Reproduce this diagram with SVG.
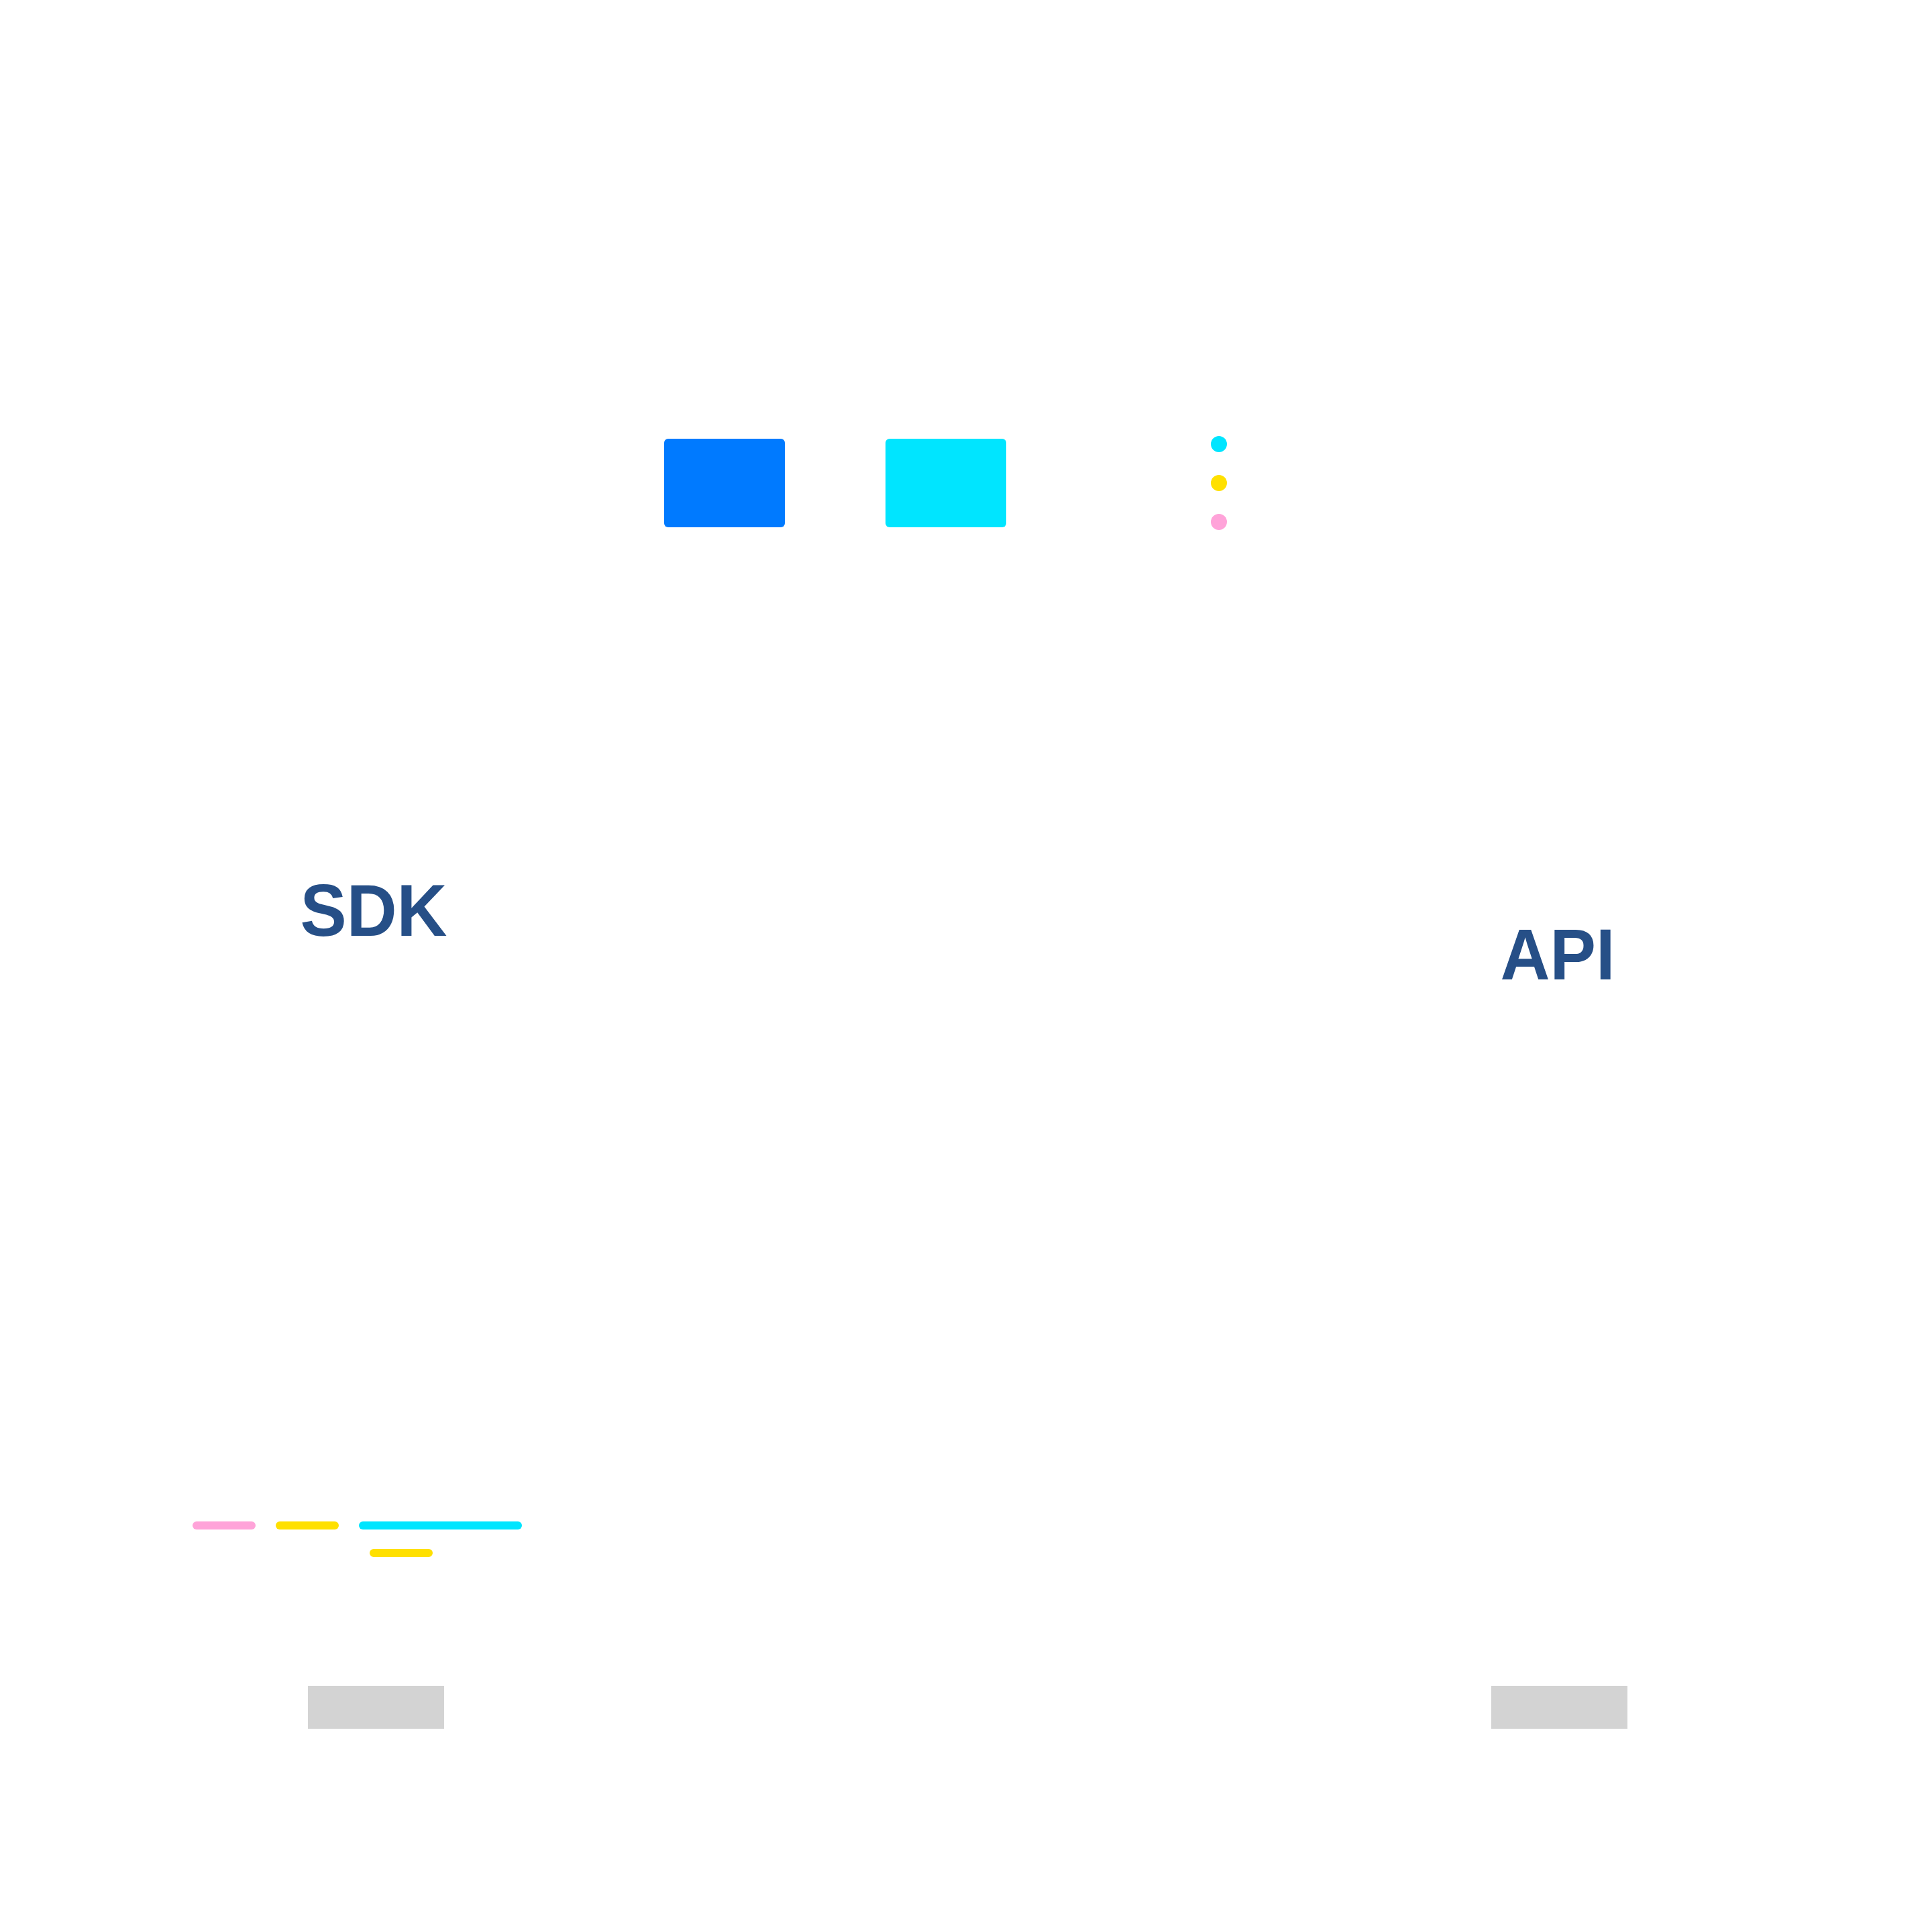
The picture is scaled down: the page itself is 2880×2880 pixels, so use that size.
<svg xmlns="http://www.w3.org/2000/svg" width="2880" height="2880" viewBox="0 0 2880 2880">
<style>
.lbl{font-family:"Liberation Sans",Arial,sans-serif;font-weight:bold;fill:#264f87;text-anchor:middle}
.bar{stroke-width:12;stroke-linecap:round;fill:none}
.gray{fill:#d3d3d3}
</style>
<rect width="2880" height="2880" fill="#ffffff"/>
<g id="box-blue"><rect x="990" y="654" width="180" height="132" rx="6" fill="#007aff"/></g>
<g id="box-cyan"><rect x="1320" y="654" width="180" height="132" rx="6" fill="#00e5ff"/></g>
<g id="dots">
<circle cx="1817" cy="662" r="12" fill="#00e5ff"/>
<circle cx="1817" cy="720" r="12" fill="#ffe000"/>
<circle cx="1817" cy="778" r="12" fill="#ffa3d9"/>
</g>
<g id="sdk"><text class="lbl" x="557" y="1395" font-size="110" textLength="219" lengthAdjust="spacingAndGlyphs">SDK</text></g>
<g id="api"><text class="lbl" x="2322" y="1460" font-size="107" textLength="171" lengthAdjust="spacingAndGlyphs">API</text></g>
<g id="connectors">
<line class="bar" x1="293" y1="2274" x2="375" y2="2274" stroke="#ffa3d9"/>
<line class="bar" x1="417" y1="2274" x2="499" y2="2274" stroke="#ffe000"/>
<line class="bar" x1="541" y1="2274" x2="772" y2="2274" stroke="#00e5ff"/>
<line class="bar" x1="557" y1="2315" x2="639" y2="2315" stroke="#ffe000"/>
</g>
<g id="gray-left"><rect class="gray" x="459" y="2513" width="203" height="64"/></g>
<g id="gray-right"><rect class="gray" x="2223" y="2513" width="203" height="64"/></g>
</svg>
